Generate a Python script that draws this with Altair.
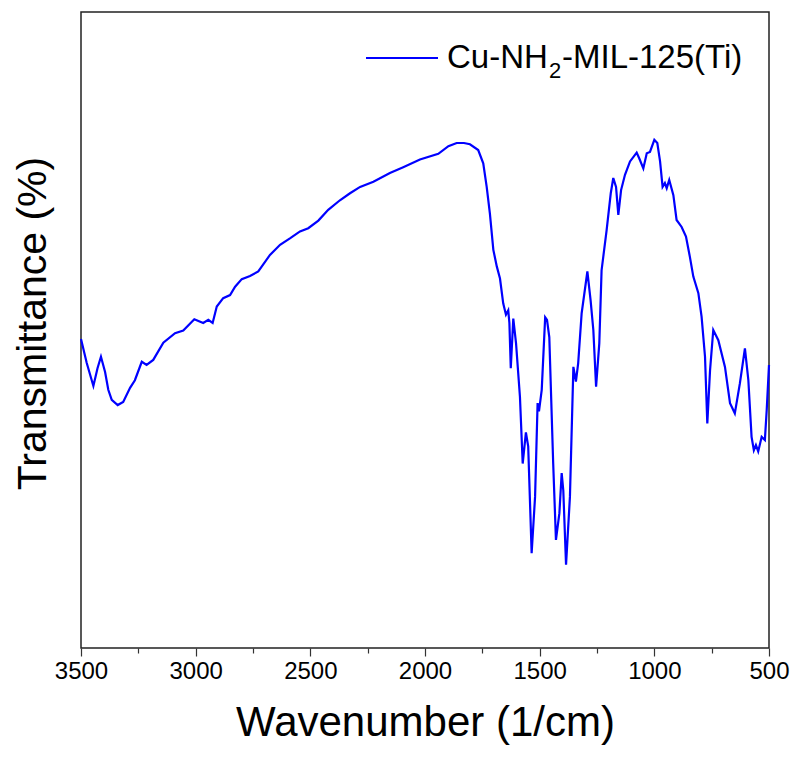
import altair as alt
import pandas as pd

wavenumber = [3500, 3475, 3446, 3428, 3413, 3395, 3381, 3366, 3340, 3316, 3286, 3265,
              3235, 3214, 3185, 3141, 3090, 3054, 3006, 2967, 2945, 2926, 2908, 2880,
              2850, 2828, 2799, 2763, 2727, 2676, 2632, 2589, 2545, 2509, 2465, 2422,
              2371, 2327, 2283, 2225, 2153, 2095, 2022, 1942, 1898, 1862, 1830, 1804,
              1768, 1746, 1731, 1717, 1702, 1687, 1673, 1659, 1647, 1637, 1632, 1626,
              1615, 1603, 1586, 1574, 1560, 1550, 1535, 1520, 1509, 1503, 1491, 1476,
              1468, 1458, 1441, 1429, 1414, 1404, 1397, 1385, 1368, 1353, 1342, 1332,
              1317, 1292, 1278, 1266, 1254, 1240, 1230, 1208, 1190, 1179, 1167, 1157,
              1145, 1128, 1106, 1077, 1066, 1048, 1033, 1019, 1000, 987, 975, 964,
              954, 946, 935, 917, 903, 881, 862, 845, 830, 808, 794, 779,
              769, 757, 743, 721, 692, 670, 649, 627, 605, 590, 576, 566,
              557, 547, 532, 518, 510, 500]
transmittance = [48.6, 44.8, 41.2, 44.0, 45.8, 43.4, 40.6, 39.0, 38.2, 38.7, 40.9, 42.1,
                 45.0, 44.5, 45.3, 48.0, 49.5, 49.9, 51.7, 51.1, 51.6, 51.1, 53.7, 55.0,
                 55.5, 56.8, 58.0, 58.5, 59.2, 61.8, 63.4, 64.4, 65.5, 66.0, 67.2, 68.9,
                 70.4, 71.5, 72.5, 73.3, 74.7, 75.6, 76.8, 77.7, 78.9, 79.4, 79.4, 79.2,
                 78.3, 76.2, 72.5, 68.3, 62.6, 60.0, 58.1, 54.2, 52.4, 53.1, 51.1, 44.0,
                 51.8, 47.9, 39.5, 29.0, 33.9, 31.7, 14.9, 23.8, 38.5, 37.2, 40.6, 52.0,
                 51.6, 48.9, 29.0, 17.0, 21.2, 27.5, 24.8, 13.1, 23.8, 44.2, 41.9, 44.8,
                 52.6, 59.2, 54.7, 50.0, 41.1, 47.9, 59.4, 65.7, 71.5, 73.9, 72.5, 68.1,
                 72.0, 74.4, 76.5, 77.9, 77.0, 75.4, 77.8, 78.0, 79.9, 79.4, 76.5, 72.5,
                 73.1, 72.3, 73.6, 71.2, 67.3, 66.2, 64.7, 61.5, 58.4, 55.8, 52.1, 45.8,
                 35.3, 43.7, 50.0, 48.4, 44.2, 38.5, 36.9, 41.6, 47.1, 42.1, 33.2, 31.1,
                 31.9, 30.9, 33.2, 32.7, 37.4, 44.5]

tick_values = list(range(500, 3501, 250))
series_name_parts = ["Cu-NH", "2", "-MIL-125(Ti)"]

FONT = "Liberation Sans"
LINE_COLOR = "#0000FF"

df = pd.DataFrame({"wn": wavenumber, "T": transmittance})
one = pd.DataFrame({"k": [0]})

line = alt.Chart(df).mark_line(color=LINE_COLOR, strokeWidth=2.2).encode(
    x=alt.X("wn:Q",
            scale=alt.Scale(domain=[3500, 500], nice=False, zero=False),
            axis=alt.Axis(values=tick_values, format="d",
                          labelExpr="datum.value % 500 === 0 ? datum.label : ''",
                          tickSize={"condition": {"test": "datum.value % 500 === 0", "value": 8}, "value": 5},
                          tickColor="#333", tickWidth=1.2,
                          labelFont=FONT, labelFontSize=24, labelColor="#000",
                          labelPadding=3, labelFlush=False, labelOverlap=False,
                          domain=False, grid=False,
                          title="Wavenumber (1/cm)", titleFont=FONT, titleFontSize=42,
                          titleFontWeight="normal", titleColor="#000",
                          titleY=87, titleBaseline="alphabetic")),
    y=alt.Y("T:Q",
            scale=alt.Scale(domain=[0, 100], nice=False, zero=False),
            axis=alt.Axis(labels=False, ticks=False, domain=False, grid=False,
                          title="Transmittance (%)", titleFont=FONT, titleFontSize=41,
                          titleFontWeight="normal", titleColor="#000",
                          titleAngle=270, titleX=-48, titleY=311,
                          titleAlign="center", titleBaseline="middle")),
)

legend_line = alt.Chart(one).mark_rule(color=LINE_COLOR, strokeWidth=2).encode(
    x=alt.value(285), x2=alt.value(357), y=alt.value(46))

t1 = alt.Chart(one).mark_text(text=series_name_parts[0], font=FONT, fontSize=33,
                              align="left", baseline="alphabetic", color="#000").encode(
    x=alt.value(366), y=alt.value(56))
t2 = alt.Chart(one).mark_text(text=series_name_parts[1], font=FONT, fontSize=22,
                              align="left", baseline="alphabetic", color="#000").encode(
    x=alt.value(468), y=alt.value(66))
t3 = alt.Chart(one).mark_text(text=series_name_parts[2], font=FONT, fontSize=33,
                              align="left", baseline="alphabetic", color="#000").encode(
    x=alt.value(481), y=alt.value(56))

chart = alt.layer(line, legend_line, t1, t2, t3).properties(
    width=688, height=636,
    autosize=alt.AutoSizeParams(type="none"),
    padding={"left": 73, "top": 4, "right": 25, "bottom": 110},
).configure_view(stroke="#222", strokeWidth=1.5)

chart.save("out.html", embed_options={"renderer": "svg", "actions": False})
